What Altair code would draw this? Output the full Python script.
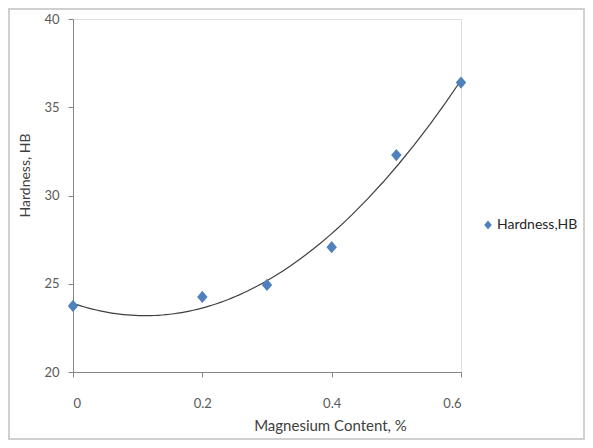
import altair as alt
import pandas as pd

mg_content = [0.0, 0.2, 0.3, 0.4, 0.5, 0.6]
hardness = [23.74, 24.25, 24.93, 27.07, 32.29, 36.4]
series_name = "Hardness,HB"
x_ticks = [0, 0.2, 0.4, 0.6]
y_ticks = [20, 25, 30, 35, 40]

df = pd.DataFrame({"x": mg_content, "y": hardness, "series": [series_name] * len(mg_content)})

FONT = "Lato"
DIAMOND = "M0,-1L0.85,0L0,1L-0.85,0Z"
xscale = alt.Scale(domain=[0, 0.6], nice=False, zero=False)
yscale = alt.Scale(domain=[20, 40], nice=False, zero=False)

base = alt.Chart(df)

frame = alt.Chart(pd.DataFrame({"a": [0]})).mark_rect(
    fill=None, stroke="#d0d0d0", strokeWidth=2
).encode(
    x=alt.value(-64), x2=alt.value(511), y=alt.value(-10), y2=alt.value(420)
)

trend = base.transform_regression(
    "x", "y", method="poly", order=2, extent=[0, 0.6]
).mark_line(color="#404040", strokeWidth=1.2).encode(
    x=alt.X("x:Q", scale=xscale),
    y=alt.Y("y:Q", scale=yscale),
)

points = base.mark_point(filled=True, size=150, opacity=1).encode(
    x=alt.X(
        "x:Q",
        scale=xscale,
        axis=alt.Axis(
            title="Magnesium Content, %",
            values=x_ticks,
            format="~g",
            grid=False,
            domainColor="#868686",
            tickColor="#868686",
            tickSize=5,
            labelPadding=20,
            labelColor="#595959",
            labelFontSize=13,
            labelFont=FONT,
            titleFont=FONT,
            titleFontSize=15,
            titleFontWeight="normal",
            titleColor="#404040",
            titleX=257,
            titleY=53,
            titleBaseline="middle",
        ),
    ),
    y=alt.Y(
        "y:Q",
        scale=yscale,
        axis=alt.Axis(
            title="Hardness, HB",
            values=y_ticks,
            grid=False,
            domainColor="#868686",
            tickColor="#868686",
            tickSize=5,
            labelPadding=9,
            labelColor="#595959",
            labelFontSize=13,
            labelFont=FONT,
            titleFont=FONT,
            titleFontSize=14,
            titleFontWeight="normal",
            titleColor="#404040",
            titleX=-48,
            titleY=156,
            titleBaseline="middle",
        ),
    ),
    color=alt.Color(
        "series:N",
        scale=alt.Scale(range=["#4F81BD"]),
        legend=alt.Legend(
            title=None,
            orient="none",
            legendX=408,
            legendY=199,
            symbolType=DIAMOND,
            symbolSize=80,
            labelFont=FONT,
            labelFontSize=14,
            labelColor="#262626",
            labelOffset=2,
            padding=0,
        ),
    ),
    shape=alt.Shape("series:N", scale=alt.Scale(range=[DIAMOND]), legend=None),
)

chart = alt.layer(frame, trend, points).properties(
    width=388,
    height=353,
    autosize=alt.AutoSizeParams(type="none"),
    padding={"left": 65, "top": 11, "right": 124, "bottom": 68},
).configure_view(stroke=None).configure(background="white")

chart.save("out.html", embed_options={"renderer": "svg", "actions": False})
